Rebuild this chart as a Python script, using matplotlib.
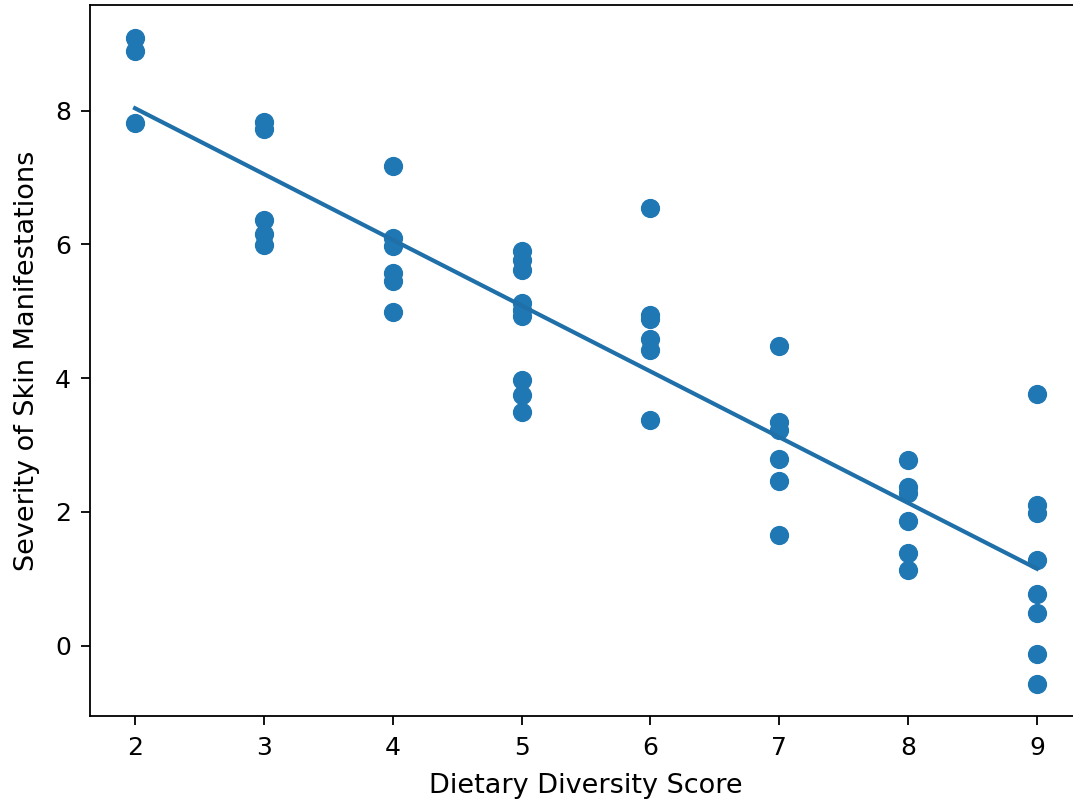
import matplotlib
matplotlib.use("Agg")
import matplotlib.pyplot as plt
import numpy as np

# dietary diversity score (x) and severity of skin manifestations (y)
score_2 = [9.09, 8.89, 7.82]
score_3 = [7.83, 7.72, 6.36, 6.15, 5.99]
score_4 = [7.17, 6.10, 5.97, 5.58, 5.46, 4.99]
score_5 = [5.90, 5.77, 5.62, 5.12, 5.02, 4.93, 3.97, 3.75, 3.49]
score_6 = [6.55, 4.95, 4.88, 4.58, 4.42, 3.38]
score_7 = [4.48, 3.34, 3.22, 2.79, 2.47, 1.66]
score_8 = [2.78, 2.37, 2.28, 1.86, 1.38, 1.13]
score_9 = [3.77, 2.10, 1.98, 1.28, 0.77, 0.49, -0.13, -0.57]

groups = {2: score_2, 3: score_3, 4: score_4, 5: score_5,
          6: score_6, 7: score_7, 8: score_8, 9: score_9}

x = np.array([k for k, v in groups.items() for _ in v], dtype=float)
y = np.array([val for v in groups.values() for val in v])

slope, intercept = np.polyfit(x, y, 1)

fig = plt.figure(figsize=(10.73, 8.02), dpi=100)
# axes run a little past the right edge of the (cropped) picture
ax = fig.add_axes([90 / 1073, 86 / 802, 992 / 1073, 711 / 802])

ax.scatter(x, y, s=165, color='#1f77b4', zorder=2)
ax.plot(x, slope * x + intercept, color='#1f6fa8', lw=3, zorder=3)

ax.set_ylim(-1.05, 9.58)
ax.set_xlabel("Dietary Diversity Score", fontsize=19.5, labelpad=9)
ax.set_ylabel("Severity of Skin Manifestations", fontsize=19.5, labelpad=11)
ax.tick_params(labelsize=18, length=6.5, width=1.3)
ax.tick_params(axis='x', pad=8)
ax.tick_params(axis='y', pad=7)
for sp in ax.spines.values():
    sp.set_linewidth(1.3)

plt.savefig("out.png", dpi=100)
